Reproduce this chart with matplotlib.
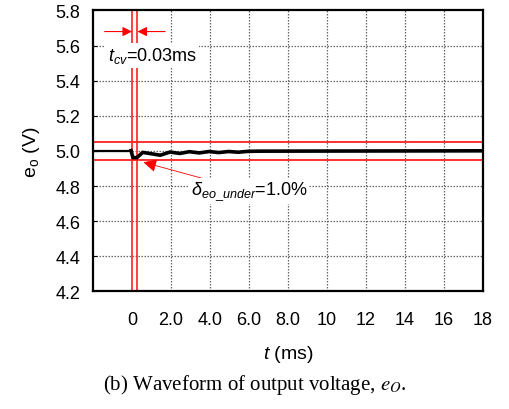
import matplotlib
matplotlib.use("Agg")
import matplotlib.pyplot as plt

# data
t_ms = [-2.0, -0.05, 0.05, 0.25, 0.55, 0.95, 1.45, 1.95, 2.45, 2.95, 3.45,
        3.95, 4.45, 4.95, 5.45, 5.95, 6.5, 18.0]
eo_v = [5.002, 5.002, 4.962, 4.962, 4.992, 4.985, 4.976, 4.994, 4.986, 4.996,
        4.989, 4.997, 4.991, 4.997, 4.993, 4.998, 4.999, 5.001]
band_levels = [5.05, 4.95]
tcv_lines = [0.0, 0.28]
xticks = [0, 2, 4, 6, 8, 10, 12, 14, 16, 18]
xticklabels = ["0", "2.0", "4.0", "6.0", "8.0", "10", "12", "14", "16", "18"]
xgrid = [2, 4, 6, 8, 10, 12, 14, 16]
yticks = [4.2, 4.4, 4.6, 4.8, 5.0, 5.2, 5.4, 5.6, 5.8]
yticklabels = ["4.2", "4.4", "4.6", "4.8", "5.0", "5.2", "5.4", "5.6", "5.8"]

plt.rcParams['font.family'] = ['Liberation Sans', 'DejaVu Sans']
plt.rcParams['mathtext.fontset'] = 'custom'
plt.rcParams['mathtext.it'] = 'Liberation Sans:italic'
plt.rcParams['mathtext.rm'] = 'Liberation Sans'

fig = plt.figure(figsize=(5.09, 4.10), dpi=100)
ax = fig.add_axes([0.1827, 0.2866, 0.949 - 0.1827, 0.972 - 0.2866])

ax.set_xlim(-2, 18)
ax.set_ylim(4.2, 5.8)
ax.set_xticks(xticks)
ax.set_xticklabels(xticklabels)
ax.set_yticks(yticks)
ax.set_yticklabels(yticklabels)
ax.tick_params(axis='both', which='major', labelsize=13, direction='in', length=3)
ax.tick_params(axis='x', which='major', pad=14, length=0)
ax.tick_params(axis='y', which='major', pad=9)
for s in ax.spines.values():
    s.set_linewidth(1.6)
    s.set_zorder(7)

# dotted grid
for gy in yticks[1:-1]:
    ax.axhline(gy, color='#666666', linestyle=(0, (1.2, 1.2)), linewidth=0.9, zorder=1)
for gx in xgrid:
    ax.axvline(gx, color='#666666', linestyle=(0, (1.2, 1.2)), linewidth=0.9, zorder=1)

for lvl in band_levels:
    ax.axhline(lvl, color='#ff2020', linewidth=1.3, zorder=3)
for xv in tcv_lines:
    ax.axvline(xv, color='#ff2020', linewidth=1.2, zorder=3)

ax.plot(t_ms[:2], eo_v[:2], color='black', linewidth=1.6, zorder=4)
ax.plot(t_ms[1:], eo_v[1:], color='black', linewidth=2.6, zorder=4)

# t_cv arrows
ax.annotate('', xy=(0.0, 5.68), xytext=(-1.4, 5.68),
            arrowprops=dict(arrowstyle='-|>', color='red', lw=0.8,
                            mutation_scale=14, shrinkA=0, shrinkB=0), zorder=5)
ax.annotate('', xy=(0.28, 5.68), xytext=(1.7, 5.68),
            arrowprops=dict(arrowstyle='-|>', color='red', lw=0.8,
                            mutation_scale=14, shrinkA=0, shrinkB=0), zorder=5)
ax.text(-1.25, 5.545, r'$t_{cv}$=0.03ms', fontsize=13, ha='left', va='center',
        bbox=dict(facecolor='white', edgecolor='none', pad=2.0), zorder=6)

# undershoot annotation
ax.annotate(r'$\delta_{eo\_under}$=1.0%', xy=(0.45, 4.94), xytext=(3.0, 4.772),
            fontsize=13, ha='left', va='center',
            bbox=dict(facecolor='white', edgecolor='none', pad=1.0),
            arrowprops=dict(arrowstyle='-|>', color='red', lw=0.6,
                            mutation_scale=20, shrinkA=0, shrinkB=2),
            zorder=6)

ax.set_ylabel(r'$\mathregular{e_o}$ (V)', fontsize=14, labelpad=10)
ax.set_xlabel(r'$t$ (ms)', fontsize=14, labelpad=11)

fig.text(0.5, 0.062, r'(b) Waveform of output voltage, $e_O$.', ha='center', va='center',
         fontsize=15, family='Liberation Serif', math_fontfamily='stix')

fig.savefig('out.png', dpi=100)
